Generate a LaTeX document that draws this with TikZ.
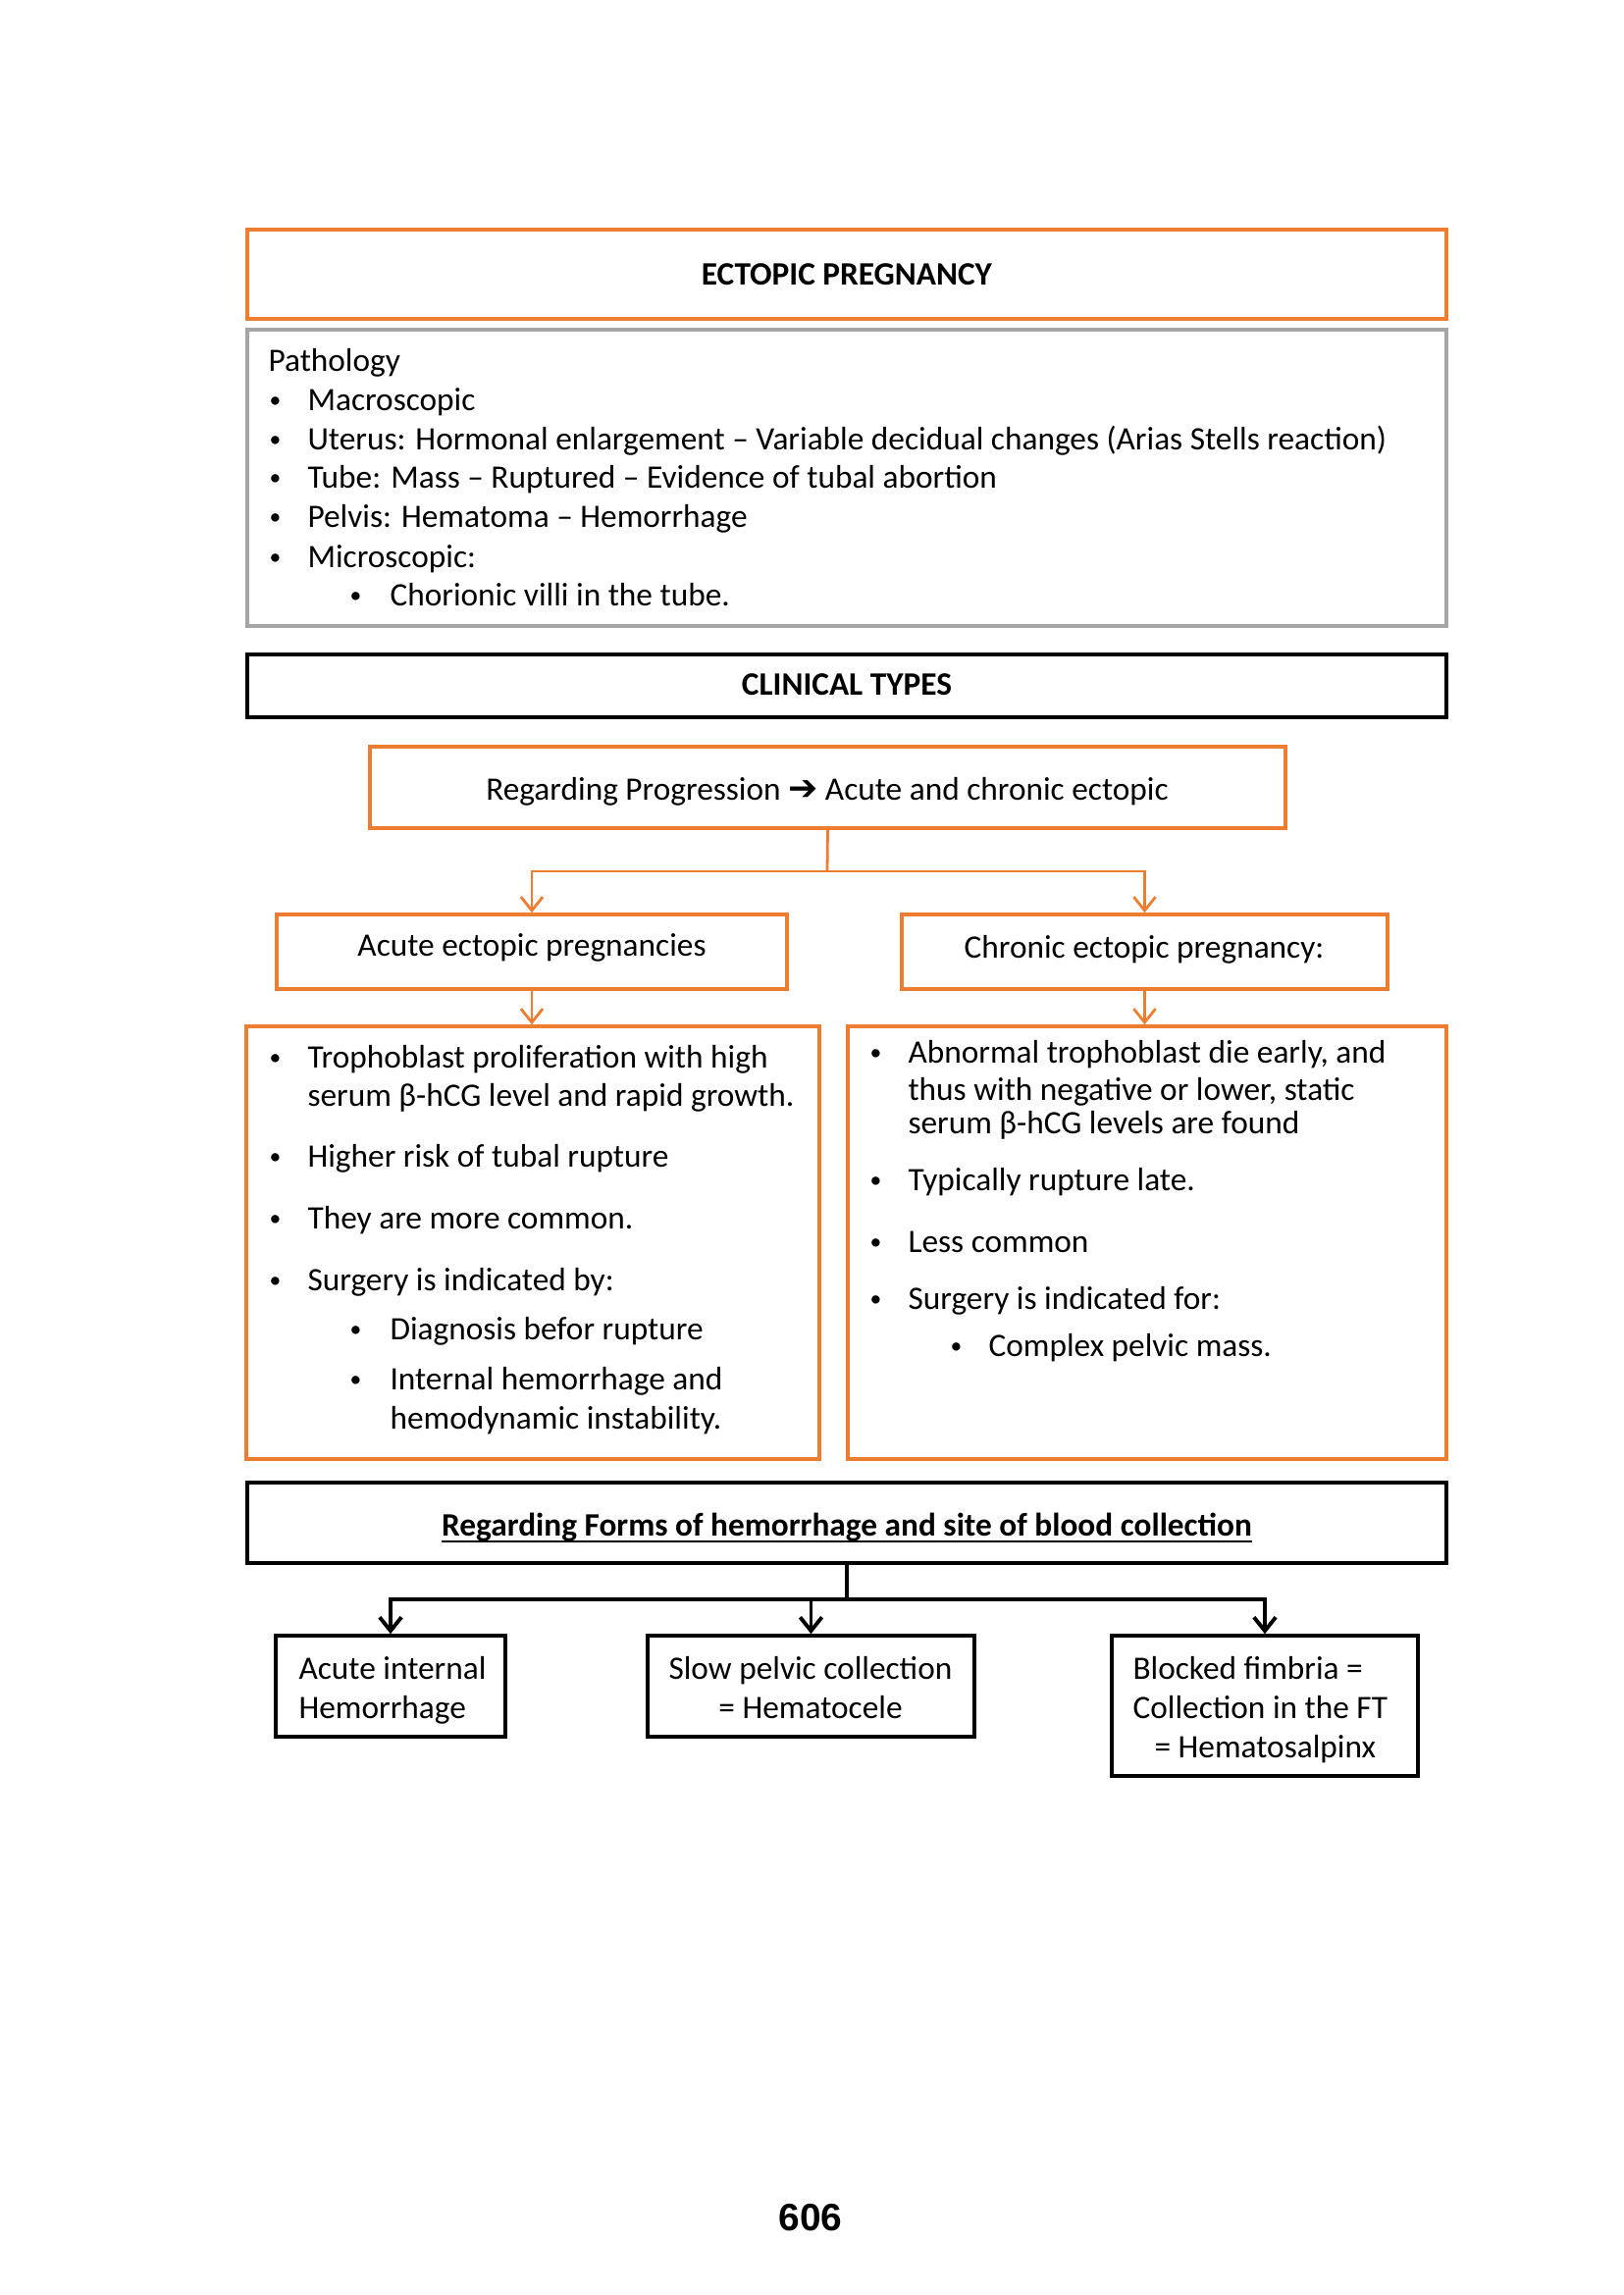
\documentclass[tikz,border=0pt]{standalone}
\usepackage{fontspec}
\setmainfont{Carlito}
\newfontfamily\arialf{Liberation Sans}
\newfontfamily\djv{DejaVu Sans}
\usetikzlibrary{arrows.meta,fit}
\definecolor{orng}{HTML}{ED7D31}
\definecolor{gry}{HTML}{A5A5A5}
\newcommand{\bl}{\raisebox{1pt}{\fontsize{8.5}{9}\selectfont\textbullet}}
\begin{document}
\begin{tikzpicture}[x=0.36pt,y=-0.36pt,
 obox/.style={draw=orng,line width=1.3pt,inner sep=0pt},
 gbox/.style={draw=gry,line width=1.5pt,inner sep=0pt},
 kbox/.style={draw=black,line width=1.3pt,inner sep=0pt},
 txt/.style={anchor=base west,inner sep=0pt,font=\fontsize{12}{14}\selectfont},
 ctxt/.style={anchor=base,inner sep=0pt,font=\fontsize{12}{14}\selectfont},
 btxt/.style={anchor=base,inner sep=0pt,font=\fontsize{12}{14}\selectfont\bfseries},
 oarr/.style={draw=orng,line width=1pt,-{Straight Barb[length=5pt,width=8pt]}},
 karr/.style={draw=black,line width=1.4pt,-{Straight Barb[length=5pt,width=8pt]}},
]
\fill[white] (0,0) rectangle (1654,2339);
\useasboundingbox (0,0) rectangle (1654,2339);

% Title
\node[obox,fit={(252,234)(1474,325)}] (title) {};
\node[btxt] (titletxt) at (863,290) {ECTOPIC PREGNANCY};

% Pathology
\node[gbox,fit={(252,336)(1474,638)}] (patho) {};
\node[txt] (p0) at (273,378) {Pathology};
\node[txt] (pb1) at (274,418) {\bl}; \node[txt] (p1) at (313,418) {Macroscopic};
\node[txt] (pb2) at (274,458) {\bl}; \node[txt] (p2) at (313,458) {Uterus: Hormonal enlargement – Variable decidual changes (Arias Stells reaction)};
\node[txt] (pb3) at (274,497) {\bl}; \node[txt] (p3) at (313,497) {Tube: Mass – Ruptured – Evidence of tubal abortion};
\node[txt] (pb4) at (274,537) {\bl}; \node[txt] (p4) at (313,537) {Pelvis: Hematoma – Hemorrhage};
\node[txt] (pb5) at (274,578) {\bl}; \node[txt] (p5) at (313,578) {Microscopic:};
\node[txt] (pb6) at (356,617) {\bl}; \node[txt] (p6) at (397,617) {Chorionic villi in the tube.};

% Clinical types
\node[kbox,fit={(252,667)(1474,731)}] (clin) {};
\node[btxt] (clintxt) at (863,708) {CLINICAL TYPES};

% Progression
\node[obox,fit={(377,761)(1310,844)}] (prog) {};
\node[ctxt] (progtxt) at (843,815) {Regarding Progression {\djv\bfseries\fontsize{13}{14}\selectfont ➔} Acute and chronic ectopic};

% Acute / chronic
\node[obox,fit={(282,932)(802,1008)}] (acute) {};
\node[ctxt] (acutetxt) at (542,974) {Acute ectopic pregnancies};
\node[obox,fit={(919,932)(1414,1008)}] (chronic) {};
\node[ctxt] (chronictxt) at (1166,976) {Chronic ectopic pregnancy:};

\coordinate (j1) at (843,888);
\draw[orng,line width=1pt] (prog.south) -- (j1);
\draw[oarr] (j1) -| (acute.north);
\draw[oarr] (j1) -| (chronic.north);

% Big boxes
\node[obox,fit={(251,1046)(835,1487)}] (leftbox) {};
\node[obox,fit={(864,1046)(1474,1487)}] (rightbox) {};
\draw[oarr] (acute.south) -- (acute.south |- leftbox.north);
\draw[oarr] (chronic.south) -- (chronic.south |- rightbox.north);

\node[txt] (lb1) at (274,1088) {\bl}; \node[txt] (l1) at (313,1088) {Trophoblast proliferation with high};
\node[txt] (l1b) at (313,1127) {serum β-hCG level and rapid growth.};
\node[txt] (lb2) at (274,1189) {\bl}; \node[txt] (l2) at (313,1189) {Higher risk of tubal rupture};
\node[txt] (lb3) at (274,1252) {\bl}; \node[txt] (l3) at (313,1252) {They are more common.};
\node[txt] (lb4) at (274,1315) {\bl}; \node[txt] (l4) at (313,1315) {Surgery is indicated by:};
\node[txt] (lb5) at (356,1365) {\bl}; \node[txt] (l5) at (397,1365) {Diagnosis befor rupture};
\node[txt] (lb6) at (356,1416) {\bl}; \node[txt] (l6) at (397,1416) {Internal hemorrhage and};
\node[txt] (l6b) at (397,1456) {hemodynamic instability.};

\node[txt] (rb1) at (886,1083) {\bl}; \node[txt] (r1) at (925,1083) {Abnormal trophoblast die early, and};
\node[txt] (r1b) at (925,1121) {thus with negative or lower, static};
\node[txt] (r1c) at (925,1155) {serum β-hCG levels are found};
\node[txt] (rb2) at (886,1213) {\bl}; \node[txt] (r2) at (925,1213) {Typically rupture late.};
\node[txt] (rb3) at (886,1276) {\bl}; \node[txt] (r3) at (925,1276) {Less common};
\node[txt] (rb4) at (886,1334) {\bl}; \node[txt] (r4) at (925,1334) {Surgery is indicated for:};
\node[txt] (rb5) at (968,1382) {\bl}; \node[txt] (r5) at (1007,1382) {Complex pelvic mass.};

% Forms of hemorrhage
\node[kbox,fit={(252,1511)(1474,1593)}] (forms) {};
\node[btxt] (formstxt) at (863,1565) {Regarding Forms of hemorrhage and site of blood collection};
\draw[black,line width=0.9pt] ([yshift=-2.2pt]formstxt.base west) -- ([yshift=-2.2pt]formstxt.base east);

\node[kbox,fit={(281,1667)(515,1770)}] (b1) {};
\node[kbox,fit={(660,1667)(993,1770)}] (b2) {};
\node[kbox,fit={(1133,1667)(1445,1810)}] (b3) {};

\coordinate (j2) at (863,1630);
\draw[black,line width=1.4pt] (forms.south) -- (j2);
\draw[karr] (j2) -| (b1.north);
\draw[karr] (j2) -| (b2.north);
\draw[karr] (j2) -| (b3.north);

\node[txt] (b1a) at (304,1711) {Acute internal};
\node[txt] (b1b) at (304,1751) {Hemorrhage};
\node[ctxt] (b2a) at (826,1711) {Slow pelvic collection};
\node[ctxt] (b2b) at (826,1751) {= Hematocele};
\node[txt] (b3a) at (1154,1711) {Blocked fimbria =};
\node[txt] (b3b) at (1154,1751) {Collection in the FT};
\node[txt] (b3c) at (1176,1791) {= Hematosalpinx};

% page number
\node[font=\arialf\bfseries\fontsize{14}{16}\selectfont,inner sep=0pt] (pg) at (826,2260) {606};
\end{tikzpicture}
\end{document}
